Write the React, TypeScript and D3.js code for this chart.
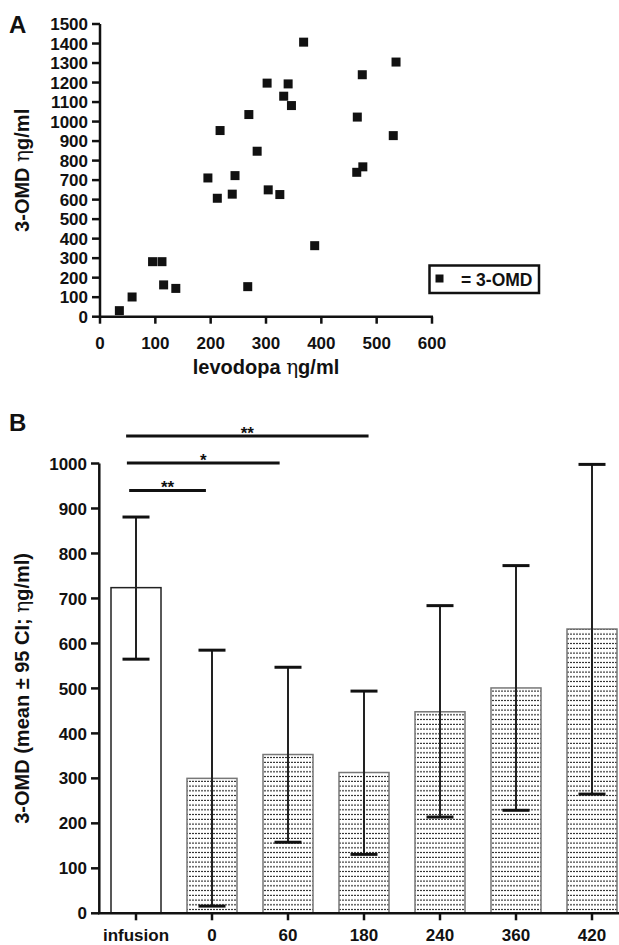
import React from "react";
import * as d3 from "d3";

const levodopa = [35, 58, 95, 112, 115, 137, 195, 212, 217, 239, 244, 269, 267, 284, 302, 304, 325, 332, 340, 346, 368, 388, 535, 474, 465, 530, 475, 464];
const omd = [31, 101, 282, 282, 163, 145, 711, 607, 954, 628, 723, 1036, 154, 848, 1197, 650, 626, 1130, 1193, 1082, 1407, 364, 1305, 1240, 1023, 928, 768, 740];
const xTicksA = [0, 100, 200, 300, 400, 500, 600];
const yTicksA = d3.range(0, 1501, 100);

const categories = ["infusion", "0", "60", "180", "240", "360", "420"];
const means = [724, 300, 353, 313, 448, 501, 632];
const upper = [881, 585, 547, 494, 684, 773, 998];
const lower = [565, 16, 158, 131, 214, 229, 265];
const yTicksB = d3.range(0, 1001, 100);

// significance bars: start/end in category index units, y in data units
const sigStart = [-0.13, -0.12, -0.09];
const sigEnd = [3.06, 1.89, 0.92];
const sigY = [1061, 1001, 940];
const sigLabel = ["**", "*", "**"];

const FONT = "Helvetica, 'Liberation Sans', Arial, sans-serif";
const TICK = 17;
const TITLE = 20;

export default function App() {
  // Panel A scales
  const xA = d3.scaleLinear().domain([0, 600]).range([100, 432]);
  const yA = d3.scaleLinear().domain([0, 1500]).range([316.7, 24]);
  // Panel B scales
  const xB = d3.scalePoint<string>().domain(categories).range([136, 592]);
  const xIdx = d3.scaleLinear().domain([0, 6]).range([136, 592]);
  const yB = d3.scaleLinear().domain([0, 1000]).range([913.3, 463.5]);
  const barW = 50;
  const capW = 27;
  const ms = 9;

  return (
    <svg
      width={619}
      height={945}
      style={{ position: "absolute", left: 0, top: 0, display: "block", background: "#fff" }}
      fontFamily={FONT}
    >
      <defs>
        <pattern id="dots" patternUnits="userSpaceOnUse" width={3} height={4.75}>
          <rect x={0} y={1.8} width={2} height={1} fill="#111" />
        </pattern>
      </defs>

      {/* ---------- Panel A ---------- */}
      <text x={9} y={33} fontSize={24} fontWeight="bold" fill="#111">A</text>
      {/* axes */}
      <line x1={xA(0)} x2={xA(0)} y1={yA(1500)} y2={yA(0)} stroke="#111" strokeWidth={2.5} />
      <line x1={xA(0) - 1} x2={xA(600) + 1} y1={yA(0)} y2={yA(0)} stroke="#111" strokeWidth={2.5} />
      {yTicksA.map((t) => (
        <g key={"ya" + t}>
          <line x1={xA(0) - 8} x2={xA(0)} y1={yA(t)} y2={yA(t)} stroke="#111" strokeWidth={2.5} />
          <text x={xA(0) - 12} y={yA(t)} dy="0.36em" textAnchor="end" fontSize={TICK} fontWeight="bold" fill="#111">
            {t}
          </text>
        </g>
      ))}
      {xTicksA.map((t) => (
        <g key={"xa" + t}>
          <line x1={xA(t)} x2={xA(t)} y1={yA(0)} y2={yA(0) + 7} stroke="#111" strokeWidth={2.5} />
          <text x={xA(t)} y={349} textAnchor="middle" fontSize={TICK} fontWeight="bold" fill="#111">
            {t}
          </text>
        </g>
      ))}
      <text x={266} y={374} textAnchor="middle" fontSize={TITLE} fontWeight="bold" fill="#111">
        levodopa <tspan fontWeight="normal" fontFamily="'DejaVu Serif', serif">η</tspan>g/ml
      </text>
      <text
        transform={`translate(29, ${yA(750)}) rotate(-90)`}
        textAnchor="middle"
        fontSize={TITLE}
        fontWeight="bold"
        fill="#111"
      >
        3-OMD <tspan fontWeight="normal" fontFamily="'DejaVu Serif', serif">η</tspan>g/ml
      </text>
      {levodopa.map((lx, i) => (
        <rect
          key={"p" + i}
          x={xA(lx) - ms / 2}
          y={yA(omd[i]) - ms / 2}
          width={ms}
          height={ms}
          fill="#111"
        />
      ))}
      {/* legend */}
      <rect x={429.5} y={265.5} width={109.5} height={27.5} fill="#fff" stroke="#111" strokeWidth={2.5} />
      <rect x={439.5 - 4} y={278.5 - 4} width={8} height={8} fill="#111" />
      <text x={461} y={285.5} fontSize={17.5} fontWeight="bold" fill="#111">= 3-OMD</text>

      {/* ---------- Panel B ---------- */}
      <text x={9} y={431} fontSize={24} fontWeight="bold" fill="#111">B</text>
      {/* bars */}
      {categories.map((c, i) => (
        <rect
          key={"bar" + c}
          x={(xB(c) as number) - barW / 2}
          y={yB(means[i])}
          width={barW}
          height={yB(0) - yB(means[i])}
          fill={i === 0 ? "#fff" : "url(#dots)"}
          stroke={i === 0 ? "#222" : "#777"}
          strokeWidth={1.5}
        />
      ))}
      {/* error bars */}
      {categories.map((c, i) => {
        const cx = xB(c) as number;
        return (
          <g key={"err" + c}>
            <line x1={cx} x2={cx} y1={yB(upper[i])} y2={yB(lower[i])} stroke="#222" strokeWidth={2} />
            <line x1={cx - capW / 2} x2={cx + capW / 2} y1={yB(upper[i])} y2={yB(upper[i])} stroke="#111" strokeWidth={3} />
            <line x1={cx - capW / 2} x2={cx + capW / 2} y1={yB(lower[i])} y2={yB(lower[i])} stroke="#111" strokeWidth={3} />
          </g>
        );
      })}
      {/* axes */}
      <line x1={99.3} x2={99.3} y1={yB(1000)} y2={yB(0)} stroke="#111" strokeWidth={2.5} />
      <line x1={98} x2={619} y1={yB(0)} y2={yB(0)} stroke="#111" strokeWidth={2.5} />
      {yTicksB.map((t) => (
        <g key={"yb" + t}>
          <line x1={91} x2={99.3} y1={yB(t)} y2={yB(t)} stroke="#111" strokeWidth={2.5} />
          <text x={87} y={yB(t)} dy="0.36em" textAnchor="end" fontSize={TICK} fontWeight="bold" fill="#111">
            {t}
          </text>
        </g>
      ))}
      {categories.map((c) => (
        <g key={"xb" + c}>
          <line x1={xB(c) as number} x2={xB(c) as number} y1={yB(0)} y2={yB(0) + 7} stroke="#111" strokeWidth={2.5} />
          <text x={xB(c) as number} y={941} textAnchor="middle" fontSize={TICK} fontWeight="bold" fill="#111">
            {c}
          </text>
        </g>
      ))}
      <text
        transform={`translate(29, ${yB(500)}) rotate(-90)`}
        textAnchor="middle"
        fontSize={TITLE}
        fontWeight="bold"
        fill="#111"
      >
        3-OMD (mean ± 95 CI; <tspan fontWeight="normal" fontFamily="'DejaVu Serif', serif">η</tspan>g/ml)
      </text>
      {/* significance */}
      {sigY.map((sy, i) => (
        <g key={"sig" + i}>
          <line x1={xIdx(sigStart[i])} x2={xIdx(sigEnd[i])} y1={yB(sy)} y2={yB(sy)} stroke="#111" strokeWidth={3} />
          <text
            x={(xIdx(sigStart[i]) + xIdx(sigEnd[i])) / 2}
            y={yB(sy) + 3}
            textAnchor="middle"
            fontSize={17}
            fontWeight="bold"
            fill="#111"
          >
            {sigLabel[i]}
          </text>
        </g>
      ))}
    </svg>
  );
}
